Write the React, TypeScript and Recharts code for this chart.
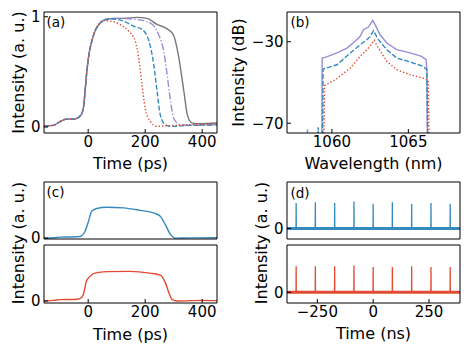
import { LineChart, Line, XAxis, YAxis } from 'recharts'

const W = 471
const H = 352
const FONT = "'DejaVu Sans', sans-serif"

// ggplot-style palette
const COLORS = {
  red: '#E24A33',
  blue: '#348ABD',
  purple: '#988ED5',
  gray: '#777777',
}

type Pt = [number, number]

/* (a) pulse shapes vs time (ps), normalised */
const riseA: Pt[] = [
  [-155, 0.01], [-123, 0.015], [-99, 0.05], [-76, 0.072], [-52, 0.07], [-29, 0.097],
  [-17, 0.17], [-11, 0.32], [-6, 0.47], [4, 0.68], [12, 0.77], [24, 0.87], [41, 0.94],
]
const fallRed: Pt[] = [
  [50, 0.965], [89, 0.955], [112, 0.93], [142, 0.87], [165, 0.78], [177, 0.63], [189, 0.38],
  [200, 0.17], [218, 0.05], [242, 0.006], [280, 0.012], [350, 0.02], [452, 0.027],
]
const fallBlue: Pt[] = [
  [65, 0.975], [83, 0.98], [124, 0.96], [159, 0.915], [189, 0.885], [212, 0.79], [230, 0.565],
  [242, 0.32], [253, 0.11], [271, 0.02], [292, 0.006], [350, 0.015], [452, 0.02],
]
const fallPurple: Pt[] = [
  [65, 0.978], [112, 0.985], [170, 0.975], [217, 0.944], [247, 0.84], [265, 0.69], [277, 0.475],
  [289, 0.233], [300, 0.08], [324, 0.02], [359, 0.015], [452, 0.022],
]
const fallGray: Pt[] = [
  [65, 0.98], [89, 0.985], [124, 0.985], [170, 0.994], [206, 0.985], [242, 0.93], [277, 0.89],
  [300, 0.83], [318, 0.63], [336, 0.32], [348, 0.11], [365, 0.036], [395, 0.03], [452, 0.036],
]

/* (b) spectra, wavelength (nm) vs dB */
const specPurple: Pt[] = [
  [1058.3, -90], [1058.4, -73], [1058.5, -90], [1059.33, -90], [1059.36, -38], [1059.56, -37.7],
  [1060.33, -35.5], [1060.98, -33.1], [1061.52, -29.8], [1061.85, -27.3], [1062.06, -24.1],
  [1062.39, -22.8], [1062.67, -19.5], [1062.83, -21.7], [1063.15, -26.6], [1063.59, -30.6],
  [1064.24, -33.9], [1065.11, -35.5], [1065.87, -37.2], [1066.16, -38.8], [1066.22, -45], [1066.25, -90],
]
const specBlue: Pt[] = [
  [1059.0, -90], [1059.1, -72], [1059.2, -90], [1059.38, -90], [1059.42, -43.5], [1059.6, -43],
  [1060.33, -41.3], [1061.2, -35.5], [1061.85, -31.5], [1062.28, -29.0], [1062.5, -27.5],
  [1062.72, -24.6], [1063.04, -29.0], [1063.59, -33.9], [1064.24, -38.0], [1065.11, -39.9],
  [1065.98, -42.1], [1066.2, -43.7], [1066.3, -90],
]
const specRed: Pt[] = [
  [1059.45, -90], [1059.52, -51.5], [1060.33, -48.1], [1061.2, -42.9], [1061.85, -37.2],
  [1062.39, -33.1], [1062.76, -29.3], [1063.04, -33.1], [1063.59, -39.6], [1064.24, -43.7],
  [1065.11, -46.2], [1066.09, -48.1], [1066.3, -49], [1066.38, -90],
]

/* (c) output pulses vs time (ps) */
const pulseC1: Pt[] = [
  [-155, 0.0], [-120, 0.01], [-99, 0.03], [-60, 0.035], [-29, 0.05], [-11, 0.22], [1, 0.54],
  [12, 0.87], [30, 0.96], [65, 1.0], [124, 0.98], [182, 0.9], [230, 0.815], [253, 0.71],
  [271, 0.43], [289, 0.11], [306, 0.0], [350, 0.005], [452, 0.01],
]
const pulseC2: Pt[] = [
  [-155, 0], [-120, 0.02], [-99, 0.045], [-50, 0.05], [-29, 0.08], [-17, 0.22], [-6, 0.67],
  [6, 0.83], [24, 0.94], [65, 0.99], [146, 1.0], [216, 0.94], [253, 0.87], [271, 0.61],
  [283, 0.28], [294, 0.055], [312, 0.0], [400, 0.02], [452, 0.01],
]

/* (d) pulse trains vs time (ns) */
const trainTimes = [-345, -259, -172.5, -86, 0, 86, 172.5, 259, 345]
const trainTop = [1.0, 1.03, 1.0, 1.06, 0.97, 1.03, 0.96, 1.0, 0.97]
const trainBottom = [1.0, 1.0, 1.0, 1.03, 0.97, 0.97, 1.0, 0.97, 0.97]
const floorD: Pt[] = [[-386, 0], [389, 0]]

function train(heights: number[]): Pt[] {
  const pts: Pt[] = [[-386, 0]]
  trainTimes.forEach((t, i) => {
    pts.push([t - 0.6, 0], [t, heights[i]], [t + 0.6, 0])
  })
  pts.push([389, 0])
  return pts
}

type Series = { data: Pt[]; color: string; dash?: string; width?: number; curve?: 'monotone' | 'linear' }
type Box = { l: number; r: number; t: number; b: number }

const fmt = (v: any) => String(v).replace('-', '\u2212')
const tickStyle = { fontSize: 15, fill: '#000', fontFamily: FONT }
const YW = 40
const XH = 30

function Panel(props: {
  box: Box
  xDomain: [number, number]
  yDomain: [number, number]
  xTicks: number[]
  yTicks: number[]
  xLabels: boolean
  series: Series[]
}) {
  const { box } = props
  return (
    <div style={{ position: 'absolute', left: 0, top: 0 }}>
      <LineChart
        width={W}
        height={H}
        margin={{ top: box.t - 1, left: box.l - YW, right: W - box.r - 1, bottom: H - box.b - XH }}
      >
        <XAxis
          type="number"
          dataKey="x"
          domain={props.xDomain}
          ticks={props.xTicks}
          interval={0}
          allowDataOverflow
          height={XH}
          tickSize={-4}
          tickMargin={7}
          stroke="#000"
          tick={props.xLabels ? tickStyle : false}
          tickFormatter={fmt}
        />
        <YAxis
          type="number"
          domain={props.yDomain}
          ticks={props.yTicks}
          interval={0}
          allowDataOverflow
          width={YW}
          tickSize={-4}
          tickMargin={7.5}
          stroke="#000"
          tick={tickStyle}
          tickFormatter={fmt}
        />
        <XAxis xAxisId="top" orientation="top" type="number" domain={[0, 1]} height={1} tick={false} tickLine={false} stroke="#000" />
        <YAxis yAxisId="right" orientation="right" type="number" domain={[0, 1]} width={1} tick={false} tickLine={false} stroke="#000" />
        {props.series.map((s, i) => (
          <Line
            key={i}
            data={s.data.map(([x, y]) => ({ x, y }))}
            dataKey="y"
            type={s.curve ?? 'monotone'}
            stroke={s.color}
            strokeWidth={s.width ?? 1.4}
            strokeDasharray={s.dash}
            dot={false}
            isAnimationActive={false}
          />
        ))}
      </LineChart>
    </div>
  )
}

const boxA: Box = { l: 44, r: 217, t: 12, b: 133 }
const boxB: Box = { l: 287, r: 460, t: 12, b: 133 }
const boxC1: Box = { l: 44, r: 217, t: 182, b: 239 }
const boxC2: Box = { l: 44, r: 217, t: 245, b: 303 }
const boxD1: Box = { l: 287, r: 460, t: 182, b: 239 }
const boxD2: Box = { l: 287, r: 460, t: 245, b: 303 }

function Labels() {
  const lab = { fontSize: 16, fontFamily: FONT, fill: '#000' }
  const tag = { fontSize: 13.5, fontFamily: FONT, fill: '#000' }
  const vert = (x: number, y: number, s: string) => (
    <text {...lab} transform={`translate(${x},${y}) rotate(-90)`} textAnchor="middle" dominantBaseline="central">
      {s}
    </text>
  )
  const horiz = (x: number, y: number, s: string) => (
    <text {...lab} x={x} y={y} textAnchor="middle" dominantBaseline="central">
      {s}
    </text>
  )
  return (
    <svg width={W} height={H} style={{ position: 'absolute', left: 0, top: 0, pointerEvents: 'none' }}>
      {vert(18.5, 72.5, 'Intensity (a. u.)')}
      {vert(238.5, 72.5, 'Intensity (dB)')}
      {vert(18.5, 243, 'Intensity (a. u.)')}
      {vert(261.5, 243, 'Intensity (a. u.)')}
      {horiz(130.5, 163.5, 'Time (ps)')}
      {horiz(373.5, 163, 'Wavelength (nm)')}
      {horiz(130.5, 334, 'Time (ps)')}
      {horiz(373.5, 333, 'Time (ns)')}
      <text {...tag} x={46.5} y={22} dominantBaseline="central">(a)</text>
      <text {...tag} x={290.5} y={22} dominantBaseline="central">(b)</text>
      <text {...tag} x={46.5} y={192} dominantBaseline="central">(c)</text>
      <text {...tag} x={290.5} y={192.5} dominantBaseline="central">(d)</text>
    </svg>
  )
}

export default function App() {
  return (
    <div style={{ position: 'fixed', left: 0, top: 0, width: W, height: H, background: '#fff' }}>
      <Panel
        box={boxA}
        xDomain={[-155, 452]}
        yDomain={[-0.054, 1.043]}
        xTicks={[0, 200, 400]}
        yTicks={[0, 1]}
        xLabels
        series={[
          { data: [...riseA, ...fallGray], color: COLORS.gray },
          { data: [...riseA, ...fallPurple], color: COLORS.purple, dash: '7 2 1.4 2' },
          { data: [...riseA, ...fallBlue], color: COLORS.blue, dash: '5 2' },
          { data: [...riseA, ...fallRed], color: COLORS.red, dash: '1.4 2' },
        ]}
      />
      <Panel
        box={boxB}
        xDomain={[1057.06, 1068.38]}
        yDomain={[-74.8, -15.4]}
        xTicks={[1060, 1065]}
        yTicks={[-70, -30]}
        xLabels
        series={[
          { data: specPurple, color: COLORS.purple, curve: 'linear' },
          { data: specBlue, color: COLORS.blue, dash: '5 2', curve: 'linear' },
          { data: specRed, color: COLORS.red, dash: '1.4 2', curve: 'linear' },
        ]}
      />
      <Panel
        box={boxC1}
        xDomain={[-155, 452]}
        yDomain={[-0.03, 1.82]}
        xTicks={[0, 200, 400]}
        yTicks={[0]}
        xLabels={false}
        series={[{ data: pulseC1, color: COLORS.blue }]}
      />
      <Panel
        box={boxC2}
        xDomain={[-155, 452]}
        yDomain={[-0.07, 1.89]}
        xTicks={[0, 200, 400]}
        yTicks={[0]}
        xLabels
        series={[{ data: pulseC2, color: COLORS.red }]}
      />
      <Panel
        box={boxD1}
        xDomain={[-386, 389]}
        yDomain={[-0.41, 1.82]}
        xTicks={[-250, 0, 250]}
        yTicks={[0]}
        xLabels={false}
        series={[
          { data: floorD, color: COLORS.blue, width: 3, curve: 'linear' },
          { data: train(trainTop), color: COLORS.blue, width: 1.3, curve: 'linear' },
        ]}
      />
      <Panel
        box={boxD2}
        xDomain={[-386, 389]}
        yDomain={[-0.41, 1.82]}
        xTicks={[-250, 0, 250]}
        yTicks={[0]}
        xLabels
        series={[
          { data: floorD, color: COLORS.red, width: 3, curve: 'linear' },
          { data: train(trainBottom), color: COLORS.red, width: 1.3, curve: 'linear' },
        ]}
      />
      <Labels />
    </div>
  )
}
